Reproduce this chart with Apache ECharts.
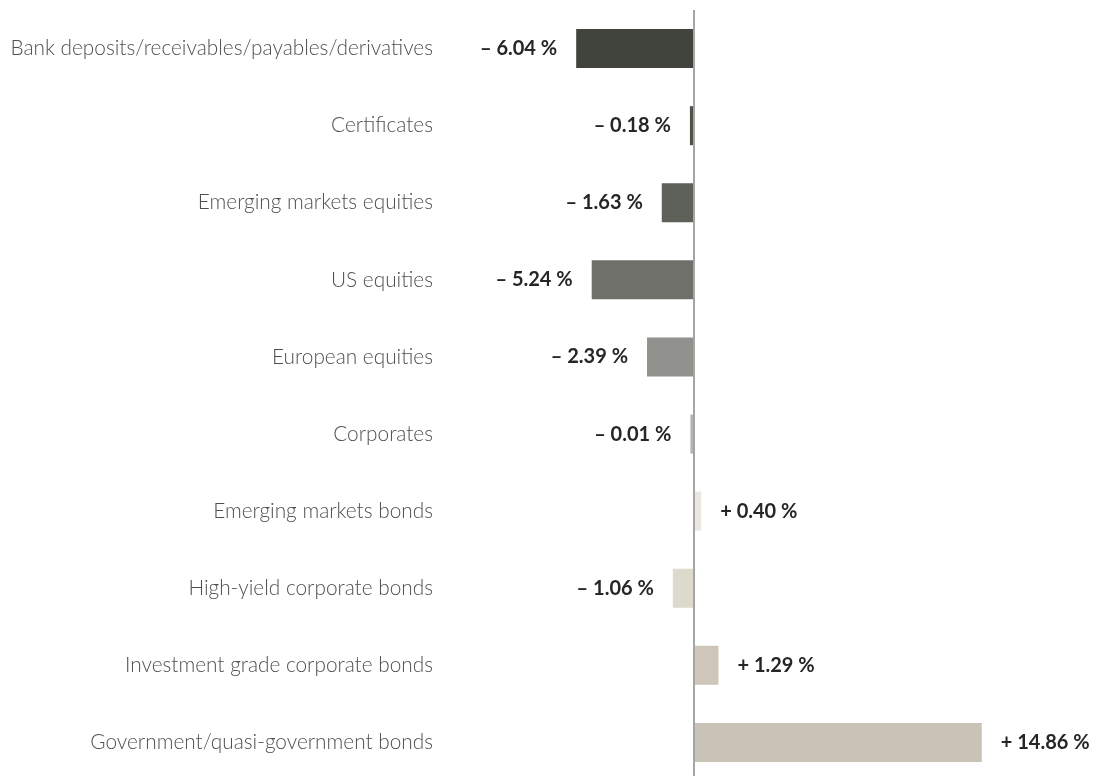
<!DOCTYPE html>
<html>
<head>
<meta charset="utf-8">
<script src="https://cdn.jsdelivr.net/npm/echarts@6/dist/echarts.min.js"></script>
<style>
  html, body { margin: 0; padding: 0; background: #fff; }
  #chart { width: 1099px; height: 776px; }
</style>
</head>
<body>
<div id="chart"></div>
<script>
// categories, top to bottom
var categories = [
  'Bank deposits/receivables/payables/derivatives',
  'Certificates',
  'Emerging markets equities',
  'US equities',
  'European equities',
  'Corporates',
  'Emerging markets bonds',
  'High-yield corporate bonds',
  'Investment grade corporate bonds',
  'Government/quasi-government bonds'
];
var values = [-6.04, -0.18, -1.63, -5.24, -2.39, -0.01, 0.40, -1.06, 1.29, 14.86];
var barColors = ['#41443d', '#4e514a', '#5e6159', '#6e7069', '#91928d', '#b3b3af',
                 '#e9e7e0', '#dcd9cd', '#cdc6b9', '#c9c2b6'];

var chart = echarts.init(document.getElementById('chart'));

// data items with colour and label side
var seriesData = values.map(function (v, i) {
  return {
    value: v,
    itemStyle: { color: barColors[i] },
    label: { position: v < 0 ? 'left' : 'right' }
  };
});

var option = {
  animation: false,
  grid: {
    left: 445, right: 0, top: 10, height: 771,
    containLabel: false,
    outerBoundsMode: 'none'
  },
  xAxis: {
    type: 'value',
    min: -12.8,
    max: 20.9,
    show: false
  },
  yAxis: {
    type: 'category',
    data: categories,
    inverse: true,
    axisLine: { show: false, onZero: false },
    axisTick: { show: false },
    axisLabel: {
      margin: 12,
      fontFamily: 'Lato',
      fontWeight: 300,
      fontSize: 20.8,
      color: '#505050'
    }
  },
  series: [{
    type: 'bar',
    data: seriesData,
    barWidth: 39,
    barMinHeight: 3,
    label: {
      show: true,
      distance: 19,
      fontFamily: 'Lato',
      fontWeight: 'bold',
      fontSize: 20,
      color: '#262626',
      formatter: function (p) {
        var v = p.value;
        return (v < 0 ? '\u2013 ' : '+ ') + Math.abs(v).toFixed(2) + ' %';
      }
    },
    markLine: {
      silent: true,
      symbol: 'none',
      label: { show: false },
      lineStyle: { color: '#a5a5a5', width: 2, type: 'solid' },
      data: [{ xAxis: 0 }]
    }
  }]
};

chart.setOption(option);
</script>
</body>
</html>
